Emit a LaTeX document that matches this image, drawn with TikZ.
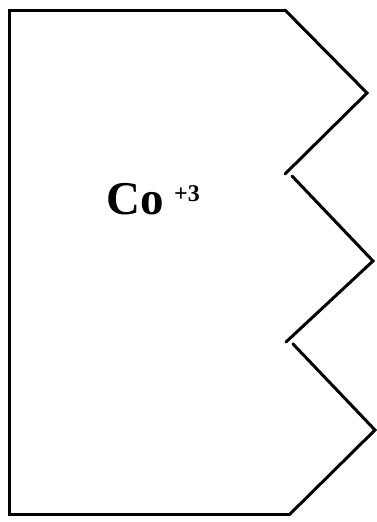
\documentclass[tikz,border=0pt]{standalone}
\usepackage{fontspec}
\setmainfont{Liberation Serif}
\usepackage{tikz}
\usetikzlibrary{positioning}

\begin{document}
\begin{tikzpicture}[x=1pt, y=-1pt,
  edge/.style={line width=3pt, line cap=round, line join=miter},
  ion/.style={inner sep=0pt, font=\fontsize{47}{47}\selectfont\bfseries},
  charge/.style={inner sep=0pt, font=\fontsize{24}{24}\selectfont\bfseries}
]
  \useasboundingbox (0,0) rectangle (376,522);

  % Outline of the cell
  \draw[edge] (285,10) -- (9,10) -- (9,514) -- (290,514);

  % Jagged right side
  \draw[edge] (285,10) -- (367,93) -- (285,174);
  \draw[edge] (292,176) -- (373,261) -- (286,342);
  \draw[edge] (293,344) -- (375,430) -- (290,514);

  % Label
  \node[ion, anchor=base west] (co) at (106,214) {Co};
  \node[charge, anchor=base west] (chg) at (174,201) {+3};
\end{tikzpicture}
\end{document}
